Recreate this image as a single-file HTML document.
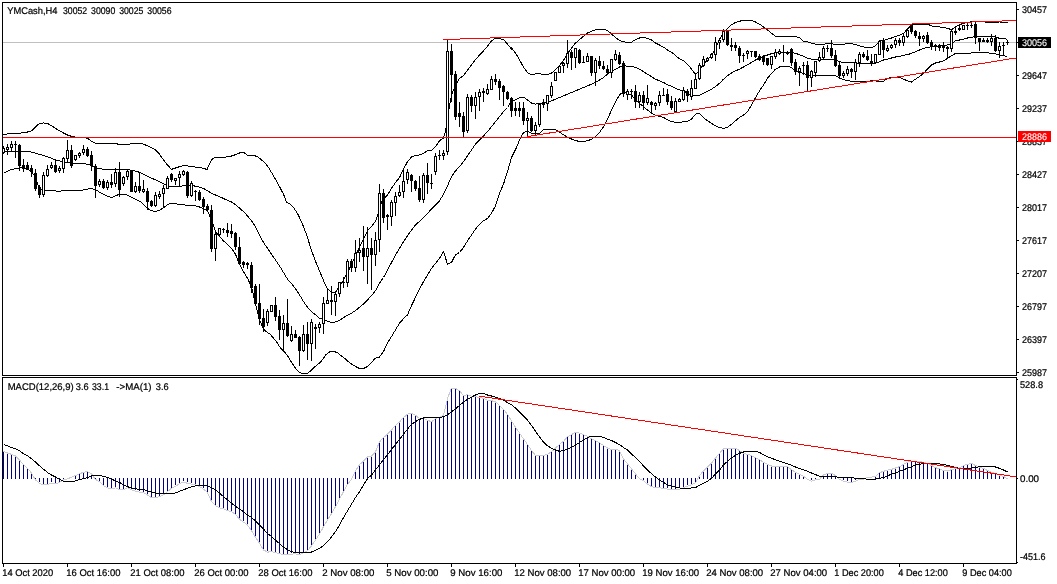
<!DOCTYPE html>
<html lang="en"><head><meta charset="utf-8"><title>YMCash H4</title>
<style>html,body{margin:0;padding:0;background:#fff}body{width:1057px;height:584px;overflow:hidden}svg{display:block}</style>
</head><body>
<svg width="1057" height="584" viewBox="0 0 1057 584">
<rect x="0" y="0" width="1057" height="584" fill="#fff"/>
<g shape-rendering="crispEdges">
<rect x="3" y="42" width="1015" height="1" fill="#c0c0c0"/>
</g>
<g fill="none" stroke="#000" stroke-width="1" shape-rendering="crispEdges">
<polyline points="3.5,134.5 7.5,134.0 11.5,133.67 15.5,133.33 19.5,133.17 23.5,132.83 27.5,132.0 31.5,130.83 35.5,127.0 39.5,123.33 43.5,123.0 47.5,123.33 51.5,125.83 55.5,128.33 59.5,130.83 63.5,133.0 67.5,135.0 71.5,136.33 75.5,137.17 83.5,137.5 87.5,138.33 91.5,141.33 95.5,143.33 99.5,143.5 103.5,143.67 115.5,143.67 119.5,144.33 123.5,144.5 127.5,144.33 131.5,143.83 135.5,143.5 139.5,143.33 143.5,144.17 147.5,145.83 151.5,147.5 155.5,150.0 159.5,154.17 163.5,160.0 167.5,165.0 171.5,169.33 175.5,168.0 179.5,166.67 183.5,165.5 187.5,165.83 191.5,166.67 199.5,167.5 203.5,168.33 207.0,169.5 211.5,159.67 214.17,158.0 219.5,157.83 223.5,157.5 227.5,156.67 231.5,156.0 235.5,154.67 239.5,153.0 243.0,152.17 245.0,153.33 247.5,155.33 251.5,155.33 255.5,156.0 258.33,157.17 263.5,161.67 267.5,165.83 271.5,172.5 275.5,179.17 279.5,186.67 283.5,194.17 286.67,202.5 290.0,204.17 294.17,208.33 298.33,215.0 302.5,224.17 306.67,235.0 310.83,248.33 315.0,260.0 319.17,270.0 323.33,280.0 325.0,284.0 327.5,289.0 331.5,292.0 335.5,292.33 339.5,286.0 343.5,280.0 347.5,272.5 351.5,264.5 355.5,256.0 359.5,247.0 363.5,238.67 367.5,230.83 371.5,226.33 375.5,221.33 378.0,214.17 381.67,201.67 384.17,198.33 387.5,195.0 391.5,188.33 395.5,182.5 399.5,177.5 403.5,169.17 407.5,161.67 411.5,157.0 415.5,155.33 419.5,155.0 423.5,153.33 427.5,150.83 431.5,150.33 435.5,146.67 439.5,140.83 443.5,138.0 445.83,130.0 447.5,116.67 451.5,95.0 455.5,85.0 459.5,78.33 463.5,75.83 467.5,70.0 471.5,65.0 475.5,59.67 479.5,55.0 483.5,50.83 487.5,46.33 491.5,40.83 495.5,38.0 499.5,38.67 503.5,39.5 507.5,44.17 511.5,49.17 511.5,48.0 515.5,53.0 519.5,59.67 523.5,67.17 527.5,72.67 531.5,74.67 535.5,73.83 539.5,73.83 543.5,74.33 547.5,74.67 551.5,73.0 555.5,69.67 559.5,65.5 563.5,60.5 567.5,53.83 571.5,48.0 575.5,43.0 579.5,39.67 583.5,36.33 587.5,33.0 591.5,31.33 595.5,29.67 599.5,29.17 603.5,29.17 607.5,30.5 611.5,33.83 615.5,37.67 619.5,40.5 623.5,41.67 627.5,42.5 631.5,42.17 635.5,39.67 639.5,38.0 643.5,37.17 647.5,38.33 651.5,40.0 655.5,43.0 659.5,45.0 663.5,47.17 667.5,50.0 671.5,52.17 675.5,55.5 679.5,58.83 683.5,60.83 683.5,60.83 687.5,64.17 691.5,69.17 695.5,74.67 699.5,70.0 703.5,64.67 707.5,59.67 711.5,55.5 715.5,48.33 719.5,40.0 723.5,32.5 727.5,28.33 731.5,24.67 735.5,22.5 739.5,21.17 743.5,20.5 747.5,20.33 751.5,20.5 755.5,22.0 759.5,24.17 763.5,27.0 767.5,30.0 771.5,33.33 775.5,36.33 779.5,36.67 783.5,36.67 787.5,36.33 791.5,36.33 795.5,36.67 799.5,37.5 803.5,41.33 807.5,41.67 811.5,43.33 815.5,44.17 819.5,44.5 823.5,44.17 827.5,43.67 831.5,43.67 835.5,44.5 839.5,44.17 843.5,44.17 847.5,43.83 851.5,43.67 855.5,44.67 859.5,45.83 863.5,47.0 867.5,47.5 871.5,47.5 875.5,45.83 879.5,40.83 883.5,40.33 887.5,39.17 891.5,38.0 895.5,36.33 899.5,35.33 903.5,33.33 907.5,29.17 911.5,24.67 915.5,24.17 919.5,24.17 923.5,24.17 927.5,24.17 931.5,25.83 935.5,26.67 939.5,27.0 943.5,27.5 947.5,28.33 951.5,29.67 955.5,26.67 959.5,24.67 963.5,23.33 967.5,22.5 971.5,21.67 975.5,21.17 979.5,21.67 987.5,22.17 991.5,22.17 995.5,22.17 999.5,22.0 1003.5,22.0 1007.5,22.0"/>
<polyline points="3.5,152.0 11.5,151.5 21.67,151.17 27.5,151.33 33.33,152.5 41.67,155.0 48.33,157.0 55.5,160.0 61.67,161.33 66.67,162.5 73.33,163.67 83.33,163.67 90.0,164.67 95.83,168.0 103.33,169.17 110.0,170.0 116.67,169.67 126.67,169.67 133.33,170.33 140.0,172.5 146.67,175.83 155.0,179.67 163.33,183.67 167.5,185.83 171.5,186.67 179.5,186.33 187.5,185.33 191.5,185.0 195.5,186.33 199.5,187.17 203.5,188.33 207.5,190.83 211.5,193.33 219.5,196.67 227.5,200.33 231.5,202.0 235.5,204.67 239.5,208.0 243.5,211.67 247.5,215.83 251.5,220.83 255.5,226.67 259.5,235.0 263.5,242.5 267.5,248.33 271.5,254.17 275.5,260.0 279.5,265.83 283.5,272.5 287.5,279.17 293.33,285.67 299.5,294.83 303.5,301.5 307.5,307.33 311.5,311.5 315.5,314.83 319.5,318.17 323.5,319.0 327.5,321.5 331.5,322.33 335.5,322.0 339.5,320.33 343.5,317.67 347.5,315.33 351.5,313.17 355.5,310.67 359.5,307.33 363.5,304.0 367.5,299.83 371.5,295.67 375.5,290.67 379.5,283.17 383.5,277.5 387.5,270.0 391.5,262.5 395.5,255.0 399.5,248.33 403.5,241.67 407.5,235.83 411.5,230.0 415.5,225.0 419.5,221.33 423.5,217.5 427.5,213.33 431.5,209.17 435.5,205.0 439.5,200.83 443.5,194.17 447.5,185.83 451.5,176.67 455.5,170.83 459.5,166.67 463.5,161.67 467.5,155.83 471.5,150.0 475.5,144.17 479.5,140.0 483.5,135.83 487.5,131.67 491.5,126.67 495.5,121.67 499.5,116.67 503.5,111.67 507.5,107.5 511.5,101.33 515.5,99.67 519.5,97.83 523.5,97.17 527.5,100.0 531.5,103.0 535.5,104.17 539.5,103.33 543.5,103.0 547.5,102.5 551.5,100.83 555.5,99.17 559.5,97.5 563.5,95.83 567.5,94.17 571.5,92.5 575.5,90.83 579.5,89.17 583.5,87.5 587.5,85.83 591.5,84.17 595.5,82.5 599.5,80.0 603.5,77.5 607.5,74.17 611.5,71.67 615.5,69.17 619.5,67.0 623.5,65.83 627.5,66.17 631.5,66.33 635.5,67.5 639.5,69.17 643.5,71.67 647.5,74.17 651.5,76.67 655.5,79.17 659.5,80.83 663.5,82.5 667.5,84.67 671.5,86.33 675.5,88.33 679.5,90.0 683.5,90.33 687.5,93.67 691.5,95.33 695.5,95.83 699.5,95.33 703.5,93.33 707.5,91.33 711.5,89.17 715.5,86.67 719.5,83.33 723.5,79.17 727.5,75.83 731.5,73.0 735.5,70.83 739.5,69.17 743.5,67.0 747.5,64.67 751.5,62.5 755.5,60.0 759.5,58.0 763.5,56.33 767.5,55.0 771.5,53.67 775.5,53.0 779.5,52.5 783.5,52.0 787.5,52.0 791.5,52.5 795.5,53.33 799.5,54.67 803.5,56.33 807.5,58.33 811.5,59.17 815.5,59.5 819.5,59.17 823.5,59.17 827.5,59.17 831.5,59.17 835.5,59.67 839.5,61.67 843.5,62.5 847.5,62.83 851.5,62.5 855.5,63.0 859.5,63.33 863.5,63.67 867.5,63.67 871.5,63.67 875.5,63.33 879.5,61.67 883.5,60.0 887.5,59.17 891.5,58.0 895.5,57.0 899.5,56.33 903.5,55.33 907.5,54.67 911.5,53.33 915.5,51.67 919.5,50.0 923.5,48.33 927.5,47.5 931.5,46.67 935.5,46.33 939.5,45.83 943.5,45.33 947.5,45.0 951.5,44.17 955.5,40.83 959.5,40.0 963.5,39.17 967.5,38.0 971.5,37.17 975.5,36.67 979.5,36.33 983.5,36.67 987.5,36.67 991.5,36.67 995.5,37.0 999.5,38.33 1003.5,38.83 1007.5,39.17"/>
<polyline points="3.5,173.33 10.0,170.0 16.67,168.33 21.67,167.5 27.5,168.67 31.5,171.67 35.5,177.5 39.5,189.17 43.5,190.0 50.0,190.0 58.33,191.33 66.67,190.33 75.0,190.0 83.33,190.0 90.0,188.67 95.0,189.17 100.0,192.5 106.67,195.83 111.67,197.5 116.67,195.33 119.5,194.17 126.67,195.0 133.33,198.33 141.67,202.5 147.5,208.33 151.67,210.83 155.83,211.33 160.0,210.0 165.0,206.67 169.17,203.67 171.5,203.67 179.5,204.17 187.5,205.33 195.5,205.83 199.5,207.0 203.5,208.67 207.5,210.83 211.5,220.0 215.5,231.67 219.5,236.67 223.5,240.83 227.5,244.67 231.5,248.33 235.5,254.17 239.5,264.17 243.5,271.67 247.5,278.33 251.5,286.67 255.5,304.0 259.5,319.83 263.5,329.0 265.83,331.5 270.0,334.0 274.17,339.0 277.5,343.17 280.0,347.33 284.17,351.5 287.5,355.67 291.5,362.33 295.5,368.17 298.33,371.5 302.5,373.67 306.67,373.67 310.0,371.5 314.17,367.33 318.33,364.0 321.67,360.67 325.83,354.83 330.0,351.5 334.17,351.5 338.33,353.17 340.0,354.83 343.5,357.33 347.5,361.0 351.5,364.0 355.5,366.5 359.5,368.5 363.5,368.5 367.5,366.5 371.5,362.33 375.5,358.17 379.5,357.0 383.5,351.5 387.5,343.17 391.5,336.5 395.5,329.83 399.5,323.17 403.5,318.67 407.5,314.83 411.5,305.67 415.5,297.33 419.5,289.17 423.5,281.67 427.5,275.0 431.5,268.33 435.5,263.33 439.5,258.33 443.5,251.67 447.5,264.17 451.5,262.5 455.5,254.67 459.5,252.5 463.5,247.5 467.5,240.83 471.5,235.0 475.5,229.17 479.5,224.17 483.5,220.83 487.5,218.33 491.5,213.33 495.5,205.83 499.5,193.33 503.5,184.17 507.5,171.67 511.5,157.5 516.67,147.17 519.5,140.0 523.5,132.5 527.5,131.17 531.5,133.33 535.5,133.83 539.5,133.67 543.5,129.17 547.5,129.17 551.5,129.17 555.5,129.83 559.5,132.17 563.5,134.83 567.5,137.33 571.5,139.0 575.5,140.67 579.5,141.33 583.5,141.33 587.5,140.83 591.5,139.17 595.5,136.67 599.5,132.5 603.5,126.67 607.5,119.17 611.5,110.0 615.5,101.67 619.5,95.0 623.5,91.67 627.5,93.67 631.5,95.0 635.5,100.0 639.5,103.33 643.5,106.67 647.5,110.0 651.5,113.0 655.5,115.33 659.5,116.33 663.5,117.5 667.5,119.67 671.5,121.67 675.5,122.17 679.5,122.5 683.5,121.67 687.5,121.33 691.5,119.17 695.5,114.17 699.5,113.33 703.5,117.5 707.5,120.83 711.5,123.33 715.5,125.83 719.5,127.5 723.5,128.33 727.5,127.5 731.5,124.17 735.5,120.83 739.5,117.5 743.5,115.0 747.5,111.67 751.5,105.0 755.5,97.5 759.5,90.83 763.5,85.0 767.5,78.33 771.5,73.33 775.5,69.17 779.5,67.0 783.5,66.33 787.5,66.33 791.5,67.5 795.5,70.83 799.5,72.5 803.5,73.33 807.5,75.0 811.5,75.33 815.5,75.33 819.5,75.33 823.5,75.33 827.5,75.33 831.5,75.33 835.5,75.83 839.5,78.0 843.5,79.67 847.5,80.5 851.5,81.33 855.5,81.67 859.5,81.67 863.5,81.33 867.5,81.33 871.5,80.83 875.5,80.83 879.5,81.67 883.5,81.33 887.5,78.33 891.5,77.5 895.5,77.5 899.5,77.5 903.5,79.17 907.5,80.83 911.5,82.0 915.5,79.17 919.5,76.67 923.5,73.33 927.5,69.17 931.5,65.0 935.5,63.0 939.5,62.0 943.5,60.83 947.5,58.33 951.5,55.83 955.5,53.33 959.5,53.67 963.5,53.67 967.5,53.33 971.5,53.0 975.5,52.5 979.5,52.17 983.5,52.17 987.5,52.83 991.5,53.33 995.5,53.83 999.5,55.0 1003.5,55.83 1007.5,56.33"/>
</g>
<g shape-rendering="crispEdges">
<rect x="3" y="146" width="1" height="8" fill="#000"/>
<rect x="2" y="148" width="3" height="5" fill="#000"/>
<rect x="3" y="149" width="1" height="3" fill="#fff"/>
<rect x="7" y="144" width="1" height="11" fill="#000"/>
<rect x="6" y="147" width="3" height="3" fill="#000"/>
<rect x="7" y="148" width="1" height="1" fill="#fff"/>
<rect x="11" y="141" width="1" height="11" fill="#000"/>
<rect x="10" y="144" width="3" height="4" fill="#000"/>
<rect x="11" y="145" width="1" height="2" fill="#fff"/>
<rect x="15" y="141" width="1" height="17" fill="#000"/>
<rect x="14" y="144" width="3" height="1" fill="#000"/>
<rect x="19" y="144" width="1" height="27" fill="#000"/>
<rect x="18" y="145" width="3" height="21" fill="#000"/>
<rect x="23" y="159" width="1" height="13" fill="#000"/>
<rect x="22" y="165" width="3" height="4" fill="#000"/>
<rect x="27" y="162" width="1" height="8" fill="#000"/>
<rect x="26" y="165" width="3" height="5" fill="#000"/>
<rect x="31" y="165" width="1" height="12" fill="#000"/>
<rect x="30" y="168" width="3" height="4" fill="#000"/>
<rect x="35" y="169" width="1" height="22" fill="#000"/>
<rect x="34" y="173" width="3" height="16" fill="#000"/>
<rect x="39" y="185" width="1" height="13" fill="#000"/>
<rect x="38" y="187" width="3" height="8" fill="#000"/>
<rect x="43" y="172" width="1" height="25" fill="#000"/>
<rect x="42" y="175" width="3" height="20" fill="#000"/>
<rect x="43" y="176" width="1" height="18" fill="#fff"/>
<rect x="47" y="165" width="1" height="12" fill="#000"/>
<rect x="46" y="169" width="3" height="7" fill="#000"/>
<rect x="47" y="170" width="1" height="5" fill="#fff"/>
<rect x="51" y="162" width="1" height="7" fill="#000"/>
<rect x="50" y="165" width="3" height="3" fill="#000"/>
<rect x="51" y="166" width="1" height="1" fill="#fff"/>
<rect x="55" y="160" width="1" height="13" fill="#000"/>
<rect x="54" y="165" width="3" height="7" fill="#000"/>
<rect x="59" y="166" width="1" height="7" fill="#000"/>
<rect x="58" y="168" width="3" height="3" fill="#000"/>
<rect x="59" y="169" width="1" height="1" fill="#fff"/>
<rect x="63" y="157" width="1" height="16" fill="#000"/>
<rect x="62" y="158" width="3" height="11" fill="#000"/>
<rect x="63" y="159" width="1" height="9" fill="#fff"/>
<rect x="67" y="140" width="1" height="22" fill="#000"/>
<rect x="66" y="150" width="3" height="9" fill="#000"/>
<rect x="67" y="151" width="1" height="7" fill="#fff"/>
<rect x="71" y="145" width="1" height="23" fill="#000"/>
<rect x="70" y="150" width="3" height="16" fill="#000"/>
<rect x="75" y="155" width="1" height="6" fill="#000"/>
<rect x="74" y="155" width="3" height="5" fill="#000"/>
<rect x="75" y="156" width="1" height="3" fill="#fff"/>
<rect x="79" y="152" width="1" height="6" fill="#000"/>
<rect x="78" y="153" width="3" height="3" fill="#000"/>
<rect x="79" y="154" width="1" height="1" fill="#fff"/>
<rect x="83" y="145" width="1" height="10" fill="#000"/>
<rect x="82" y="149" width="3" height="4" fill="#000"/>
<rect x="83" y="150" width="1" height="2" fill="#fff"/>
<rect x="87" y="147" width="1" height="10" fill="#000"/>
<rect x="86" y="149" width="3" height="7" fill="#000"/>
<rect x="91" y="151" width="1" height="20" fill="#000"/>
<rect x="90" y="155" width="3" height="11" fill="#000"/>
<rect x="95" y="164" width="1" height="34" fill="#000"/>
<rect x="94" y="166" width="3" height="20" fill="#000"/>
<rect x="99" y="179" width="1" height="8" fill="#000"/>
<rect x="98" y="181" width="3" height="4" fill="#000"/>
<rect x="99" y="182" width="1" height="2" fill="#fff"/>
<rect x="103" y="179" width="1" height="10" fill="#000"/>
<rect x="102" y="181" width="3" height="7" fill="#000"/>
<rect x="107" y="180" width="1" height="10" fill="#000"/>
<rect x="106" y="182" width="3" height="6" fill="#000"/>
<rect x="107" y="183" width="1" height="4" fill="#fff"/>
<rect x="111" y="174" width="1" height="14" fill="#000"/>
<rect x="110" y="182" width="3" height="3" fill="#000"/>
<rect x="115" y="168" width="1" height="19" fill="#000"/>
<rect x="114" y="172" width="3" height="12" fill="#000"/>
<rect x="115" y="173" width="1" height="10" fill="#fff"/>
<rect x="119" y="162" width="1" height="35" fill="#000"/>
<rect x="118" y="172" width="3" height="18" fill="#000"/>
<rect x="123" y="176" width="1" height="10" fill="#000"/>
<rect x="122" y="177" width="3" height="7" fill="#000"/>
<rect x="123" y="178" width="1" height="5" fill="#fff"/>
<rect x="127" y="170" width="1" height="10" fill="#000"/>
<rect x="126" y="171" width="3" height="6" fill="#000"/>
<rect x="127" y="172" width="1" height="4" fill="#fff"/>
<rect x="131" y="170" width="1" height="22" fill="#000"/>
<rect x="130" y="170" width="3" height="22" fill="#000"/>
<rect x="135" y="182" width="1" height="11" fill="#000"/>
<rect x="134" y="186" width="3" height="6" fill="#000"/>
<rect x="135" y="187" width="1" height="4" fill="#fff"/>
<rect x="139" y="172" width="1" height="21" fill="#000"/>
<rect x="138" y="186" width="3" height="5" fill="#000"/>
<rect x="143" y="180" width="1" height="13" fill="#000"/>
<rect x="142" y="189" width="3" height="3" fill="#000"/>
<rect x="143" y="190" width="1" height="1" fill="#fff"/>
<rect x="147" y="188" width="1" height="22" fill="#000"/>
<rect x="146" y="191" width="3" height="11" fill="#000"/>
<rect x="151" y="200" width="1" height="7" fill="#000"/>
<rect x="150" y="201" width="3" height="5" fill="#000"/>
<rect x="155" y="192" width="1" height="15" fill="#000"/>
<rect x="154" y="195" width="3" height="11" fill="#000"/>
<rect x="155" y="196" width="1" height="9" fill="#fff"/>
<rect x="159" y="191" width="1" height="8" fill="#000"/>
<rect x="158" y="194" width="3" height="3" fill="#000"/>
<rect x="159" y="195" width="1" height="1" fill="#fff"/>
<rect x="163" y="185" width="1" height="22" fill="#000"/>
<rect x="162" y="188" width="3" height="6" fill="#000"/>
<rect x="163" y="189" width="1" height="4" fill="#fff"/>
<rect x="167" y="176" width="1" height="13" fill="#000"/>
<rect x="166" y="178" width="3" height="11" fill="#000"/>
<rect x="167" y="179" width="1" height="9" fill="#fff"/>
<rect x="171" y="173" width="1" height="9" fill="#000"/>
<rect x="170" y="174" width="3" height="6" fill="#000"/>
<rect x="175" y="178" width="1" height="7" fill="#000"/>
<rect x="174" y="178" width="3" height="3" fill="#000"/>
<rect x="175" y="179" width="1" height="1" fill="#fff"/>
<rect x="179" y="171" width="1" height="15" fill="#000"/>
<rect x="178" y="174" width="3" height="4" fill="#000"/>
<rect x="179" y="175" width="1" height="2" fill="#fff"/>
<rect x="183" y="170" width="1" height="6" fill="#000"/>
<rect x="182" y="171" width="3" height="4" fill="#000"/>
<rect x="183" y="172" width="1" height="2" fill="#fff"/>
<rect x="187" y="171" width="1" height="27" fill="#000"/>
<rect x="186" y="172" width="3" height="24" fill="#000"/>
<rect x="191" y="181" width="1" height="16" fill="#000"/>
<rect x="190" y="183" width="3" height="13" fill="#000"/>
<rect x="191" y="184" width="1" height="11" fill="#fff"/>
<rect x="195" y="190" width="1" height="11" fill="#000"/>
<rect x="194" y="191" width="3" height="1" fill="#000"/>
<rect x="199" y="190" width="1" height="11" fill="#000"/>
<rect x="198" y="192" width="3" height="8" fill="#000"/>
<rect x="203" y="197" width="1" height="17" fill="#000"/>
<rect x="202" y="199" width="3" height="8" fill="#000"/>
<rect x="207" y="204" width="1" height="8" fill="#000"/>
<rect x="206" y="206" width="3" height="4" fill="#000"/>
<rect x="211" y="205" width="1" height="47" fill="#000"/>
<rect x="210" y="210" width="3" height="39" fill="#000"/>
<rect x="215" y="231" width="1" height="30" fill="#000"/>
<rect x="214" y="234" width="3" height="15" fill="#000"/>
<rect x="215" y="235" width="1" height="13" fill="#fff"/>
<rect x="219" y="228" width="1" height="9" fill="#000"/>
<rect x="218" y="228" width="3" height="7" fill="#000"/>
<rect x="219" y="229" width="1" height="5" fill="#fff"/>
<rect x="223" y="228" width="1" height="5" fill="#000"/>
<rect x="222" y="229" width="3" height="1" fill="#000"/>
<rect x="227" y="223" width="1" height="14" fill="#000"/>
<rect x="226" y="230" width="3" height="3" fill="#000"/>
<rect x="231" y="224" width="1" height="14" fill="#000"/>
<rect x="230" y="231" width="3" height="3" fill="#000"/>
<rect x="235" y="232" width="1" height="18" fill="#000"/>
<rect x="234" y="233" width="3" height="14" fill="#000"/>
<rect x="239" y="237" width="1" height="28" fill="#000"/>
<rect x="238" y="247" width="3" height="17" fill="#000"/>
<rect x="243" y="261" width="1" height="7" fill="#000"/>
<rect x="242" y="262" width="3" height="3" fill="#000"/>
<rect x="247" y="262" width="1" height="7" fill="#000"/>
<rect x="246" y="263" width="3" height="2" fill="#000"/>
<rect x="251" y="262" width="1" height="31" fill="#000"/>
<rect x="250" y="265" width="3" height="23" fill="#000"/>
<rect x="255" y="284" width="1" height="22" fill="#000"/>
<rect x="254" y="286" width="3" height="18" fill="#000"/>
<rect x="259" y="284" width="1" height="41" fill="#000"/>
<rect x="258" y="303" width="3" height="16" fill="#000"/>
<rect x="263" y="309" width="1" height="23" fill="#000"/>
<rect x="262" y="318" width="3" height="9" fill="#000"/>
<rect x="267" y="309" width="1" height="17" fill="#000"/>
<rect x="266" y="311" width="3" height="12" fill="#000"/>
<rect x="267" y="312" width="1" height="10" fill="#fff"/>
<rect x="271" y="305" width="1" height="7" fill="#000"/>
<rect x="270" y="305" width="3" height="7" fill="#000"/>
<rect x="271" y="306" width="1" height="5" fill="#fff"/>
<rect x="275" y="297" width="1" height="24" fill="#000"/>
<rect x="274" y="305" width="3" height="12" fill="#000"/>
<rect x="279" y="310" width="1" height="30" fill="#000"/>
<rect x="278" y="316" width="3" height="14" fill="#000"/>
<rect x="283" y="315" width="1" height="35" fill="#000"/>
<rect x="282" y="323" width="3" height="7" fill="#000"/>
<rect x="283" y="324" width="1" height="5" fill="#fff"/>
<rect x="287" y="299" width="1" height="38" fill="#000"/>
<rect x="286" y="323" width="3" height="13" fill="#000"/>
<rect x="291" y="326" width="1" height="16" fill="#000"/>
<rect x="290" y="334" width="3" height="7" fill="#000"/>
<rect x="291" y="335" width="1" height="5" fill="#fff"/>
<rect x="295" y="330" width="1" height="8" fill="#000"/>
<rect x="294" y="334" width="3" height="4" fill="#000"/>
<rect x="299" y="336" width="1" height="30" fill="#000"/>
<rect x="298" y="337" width="3" height="14" fill="#000"/>
<rect x="303" y="325" width="1" height="27" fill="#000"/>
<rect x="302" y="334" width="3" height="17" fill="#000"/>
<rect x="303" y="335" width="1" height="15" fill="#fff"/>
<rect x="307" y="322" width="1" height="38" fill="#000"/>
<rect x="306" y="334" width="3" height="10" fill="#000"/>
<rect x="311" y="319" width="1" height="42" fill="#000"/>
<rect x="310" y="322" width="3" height="22" fill="#000"/>
<rect x="311" y="323" width="1" height="20" fill="#fff"/>
<rect x="315" y="324" width="1" height="25" fill="#000"/>
<rect x="314" y="327" width="3" height="2" fill="#000"/>
<rect x="319" y="322" width="1" height="11" fill="#000"/>
<rect x="318" y="324" width="3" height="4" fill="#000"/>
<rect x="319" y="325" width="1" height="2" fill="#fff"/>
<rect x="323" y="297" width="1" height="37" fill="#000"/>
<rect x="322" y="303" width="3" height="21" fill="#000"/>
<rect x="323" y="304" width="1" height="19" fill="#fff"/>
<rect x="327" y="289" width="1" height="15" fill="#000"/>
<rect x="326" y="300" width="3" height="4" fill="#000"/>
<rect x="327" y="301" width="1" height="2" fill="#fff"/>
<rect x="331" y="286" width="1" height="29" fill="#000"/>
<rect x="330" y="300" width="3" height="2" fill="#000"/>
<rect x="335" y="292" width="1" height="24" fill="#000"/>
<rect x="334" y="294" width="3" height="8" fill="#000"/>
<rect x="335" y="295" width="1" height="6" fill="#fff"/>
<rect x="339" y="282" width="1" height="15" fill="#000"/>
<rect x="338" y="282" width="3" height="12" fill="#000"/>
<rect x="339" y="283" width="1" height="10" fill="#fff"/>
<rect x="343" y="277" width="1" height="11" fill="#000"/>
<rect x="342" y="282" width="3" height="1" fill="#000"/>
<rect x="347" y="259" width="1" height="28" fill="#000"/>
<rect x="346" y="261" width="3" height="22" fill="#000"/>
<rect x="347" y="262" width="1" height="20" fill="#fff"/>
<rect x="351" y="259" width="1" height="13" fill="#000"/>
<rect x="350" y="261" width="3" height="7" fill="#000"/>
<rect x="355" y="240" width="1" height="32" fill="#000"/>
<rect x="354" y="253" width="3" height="15" fill="#000"/>
<rect x="355" y="254" width="1" height="13" fill="#fff"/>
<rect x="359" y="238" width="1" height="24" fill="#000"/>
<rect x="358" y="250" width="3" height="3" fill="#000"/>
<rect x="359" y="251" width="1" height="1" fill="#fff"/>
<rect x="363" y="226" width="1" height="45" fill="#000"/>
<rect x="362" y="248" width="3" height="9" fill="#000"/>
<rect x="367" y="227" width="1" height="57" fill="#000"/>
<rect x="366" y="248" width="3" height="9" fill="#000"/>
<rect x="367" y="249" width="1" height="7" fill="#fff"/>
<rect x="371" y="238" width="1" height="52" fill="#000"/>
<rect x="370" y="248" width="3" height="7" fill="#000"/>
<rect x="375" y="232" width="1" height="34" fill="#000"/>
<rect x="374" y="240" width="3" height="15" fill="#000"/>
<rect x="375" y="241" width="1" height="13" fill="#fff"/>
<rect x="379" y="184" width="1" height="68" fill="#000"/>
<rect x="378" y="193" width="3" height="47" fill="#000"/>
<rect x="379" y="194" width="1" height="45" fill="#fff"/>
<rect x="383" y="189" width="1" height="34" fill="#000"/>
<rect x="382" y="193" width="3" height="25" fill="#000"/>
<rect x="387" y="214" width="1" height="16" fill="#000"/>
<rect x="386" y="215" width="3" height="2" fill="#000"/>
<rect x="391" y="200" width="1" height="26" fill="#000"/>
<rect x="390" y="202" width="3" height="15" fill="#000"/>
<rect x="391" y="203" width="1" height="13" fill="#fff"/>
<rect x="395" y="192" width="1" height="24" fill="#000"/>
<rect x="394" y="196" width="3" height="7" fill="#000"/>
<rect x="395" y="197" width="1" height="5" fill="#fff"/>
<rect x="399" y="185" width="1" height="12" fill="#000"/>
<rect x="398" y="192" width="3" height="4" fill="#000"/>
<rect x="399" y="193" width="1" height="2" fill="#fff"/>
<rect x="403" y="169" width="1" height="29" fill="#000"/>
<rect x="402" y="181" width="3" height="11" fill="#000"/>
<rect x="403" y="182" width="1" height="9" fill="#fff"/>
<rect x="407" y="169" width="1" height="15" fill="#000"/>
<rect x="406" y="172" width="3" height="8" fill="#000"/>
<rect x="407" y="173" width="1" height="6" fill="#fff"/>
<rect x="411" y="174" width="1" height="18" fill="#000"/>
<rect x="410" y="175" width="3" height="6" fill="#000"/>
<rect x="415" y="180" width="1" height="11" fill="#000"/>
<rect x="414" y="181" width="3" height="8" fill="#000"/>
<rect x="419" y="176" width="1" height="26" fill="#000"/>
<rect x="418" y="188" width="3" height="12" fill="#000"/>
<rect x="423" y="173" width="1" height="30" fill="#000"/>
<rect x="422" y="175" width="3" height="25" fill="#000"/>
<rect x="423" y="176" width="1" height="23" fill="#fff"/>
<rect x="427" y="163" width="1" height="31" fill="#000"/>
<rect x="426" y="175" width="3" height="8" fill="#000"/>
<rect x="431" y="174" width="1" height="15" fill="#000"/>
<rect x="430" y="183" width="3" height="1" fill="#000"/>
<rect x="435" y="153" width="1" height="22" fill="#000"/>
<rect x="434" y="156" width="3" height="16" fill="#000"/>
<rect x="435" y="157" width="1" height="14" fill="#fff"/>
<rect x="439" y="150" width="1" height="10" fill="#000"/>
<rect x="438" y="155" width="3" height="1" fill="#000"/>
<rect x="443" y="150" width="1" height="10" fill="#000"/>
<rect x="442" y="153" width="3" height="3" fill="#000"/>
<rect x="443" y="154" width="1" height="1" fill="#fff"/>
<rect x="447" y="39" width="1" height="116" fill="#000"/>
<rect x="446" y="51" width="3" height="101" fill="#000"/>
<rect x="447" y="52" width="1" height="99" fill="#fff"/>
<rect x="451" y="44" width="1" height="58" fill="#000"/>
<rect x="450" y="51" width="3" height="24" fill="#000"/>
<rect x="455" y="71" width="1" height="49" fill="#000"/>
<rect x="454" y="74" width="3" height="43" fill="#000"/>
<rect x="459" y="102" width="1" height="25" fill="#000"/>
<rect x="458" y="113" width="3" height="4" fill="#000"/>
<rect x="463" y="112" width="1" height="26" fill="#000"/>
<rect x="462" y="116" width="3" height="16" fill="#000"/>
<rect x="467" y="94" width="1" height="39" fill="#000"/>
<rect x="466" y="97" width="3" height="34" fill="#000"/>
<rect x="467" y="98" width="1" height="32" fill="#fff"/>
<rect x="471" y="95" width="1" height="17" fill="#000"/>
<rect x="470" y="97" width="3" height="9" fill="#000"/>
<rect x="475" y="92" width="1" height="27" fill="#000"/>
<rect x="474" y="97" width="3" height="9" fill="#000"/>
<rect x="475" y="98" width="1" height="7" fill="#fff"/>
<rect x="479" y="89" width="1" height="22" fill="#000"/>
<rect x="478" y="92" width="3" height="5" fill="#000"/>
<rect x="479" y="93" width="1" height="3" fill="#fff"/>
<rect x="483" y="88" width="1" height="14" fill="#000"/>
<rect x="482" y="91" width="3" height="2" fill="#000"/>
<rect x="487" y="84" width="1" height="11" fill="#000"/>
<rect x="486" y="89" width="3" height="5" fill="#000"/>
<rect x="487" y="90" width="1" height="3" fill="#fff"/>
<rect x="491" y="76" width="1" height="14" fill="#000"/>
<rect x="490" y="79" width="3" height="11" fill="#000"/>
<rect x="491" y="80" width="1" height="9" fill="#fff"/>
<rect x="495" y="74" width="1" height="11" fill="#000"/>
<rect x="494" y="79" width="3" height="3" fill="#000"/>
<rect x="499" y="79" width="1" height="21" fill="#000"/>
<rect x="498" y="81" width="3" height="7" fill="#000"/>
<rect x="503" y="85" width="1" height="21" fill="#000"/>
<rect x="502" y="86" width="3" height="6" fill="#000"/>
<rect x="507" y="91" width="1" height="9" fill="#000"/>
<rect x="506" y="92" width="3" height="7" fill="#000"/>
<rect x="511" y="97" width="1" height="20" fill="#000"/>
<rect x="510" y="98" width="3" height="13" fill="#000"/>
<rect x="515" y="102" width="1" height="14" fill="#000"/>
<rect x="514" y="108" width="3" height="3" fill="#000"/>
<rect x="519" y="102" width="1" height="15" fill="#000"/>
<rect x="518" y="108" width="3" height="3" fill="#000"/>
<rect x="523" y="102" width="1" height="23" fill="#000"/>
<rect x="522" y="108" width="3" height="13" fill="#000"/>
<rect x="527" y="112" width="1" height="26" fill="#000"/>
<rect x="526" y="118" width="3" height="3" fill="#000"/>
<rect x="527" y="119" width="1" height="1" fill="#fff"/>
<rect x="531" y="116" width="1" height="16" fill="#000"/>
<rect x="530" y="118" width="3" height="13" fill="#000"/>
<rect x="535" y="122" width="1" height="13" fill="#000"/>
<rect x="534" y="125" width="3" height="6" fill="#000"/>
<rect x="535" y="126" width="1" height="4" fill="#fff"/>
<rect x="539" y="103" width="1" height="24" fill="#000"/>
<rect x="538" y="104" width="3" height="21" fill="#000"/>
<rect x="539" y="105" width="1" height="19" fill="#fff"/>
<rect x="543" y="99" width="1" height="9" fill="#000"/>
<rect x="542" y="102" width="3" height="3" fill="#000"/>
<rect x="547" y="95" width="1" height="16" fill="#000"/>
<rect x="546" y="95" width="3" height="9" fill="#000"/>
<rect x="547" y="96" width="1" height="7" fill="#fff"/>
<rect x="551" y="82" width="1" height="16" fill="#000"/>
<rect x="550" y="86" width="3" height="10" fill="#000"/>
<rect x="551" y="87" width="1" height="8" fill="#fff"/>
<rect x="555" y="72" width="1" height="9" fill="#000"/>
<rect x="554" y="72" width="3" height="9" fill="#000"/>
<rect x="555" y="73" width="1" height="7" fill="#fff"/>
<rect x="559" y="65" width="1" height="8" fill="#000"/>
<rect x="558" y="66" width="3" height="7" fill="#000"/>
<rect x="559" y="67" width="1" height="5" fill="#fff"/>
<rect x="563" y="62" width="1" height="11" fill="#000"/>
<rect x="562" y="63" width="3" height="3" fill="#000"/>
<rect x="563" y="64" width="1" height="1" fill="#fff"/>
<rect x="567" y="40" width="1" height="28" fill="#000"/>
<rect x="566" y="53" width="3" height="11" fill="#000"/>
<rect x="567" y="54" width="1" height="9" fill="#fff"/>
<rect x="571" y="50" width="1" height="20" fill="#000"/>
<rect x="570" y="52" width="3" height="6" fill="#000"/>
<rect x="575" y="48" width="1" height="20" fill="#000"/>
<rect x="574" y="48" width="3" height="10" fill="#000"/>
<rect x="575" y="49" width="1" height="8" fill="#fff"/>
<rect x="579" y="49" width="1" height="15" fill="#000"/>
<rect x="578" y="50" width="3" height="13" fill="#000"/>
<rect x="583" y="56" width="1" height="7" fill="#000"/>
<rect x="582" y="62" width="3" height="1" fill="#000"/>
<rect x="587" y="53" width="1" height="9" fill="#000"/>
<rect x="586" y="56" width="3" height="6" fill="#000"/>
<rect x="587" y="57" width="1" height="4" fill="#fff"/>
<rect x="591" y="56" width="1" height="20" fill="#000"/>
<rect x="590" y="56" width="3" height="17" fill="#000"/>
<rect x="595" y="58" width="1" height="28" fill="#000"/>
<rect x="594" y="60" width="3" height="13" fill="#000"/>
<rect x="595" y="61" width="1" height="11" fill="#fff"/>
<rect x="599" y="56" width="1" height="13" fill="#000"/>
<rect x="598" y="61" width="3" height="5" fill="#000"/>
<rect x="603" y="61" width="1" height="9" fill="#000"/>
<rect x="602" y="66" width="3" height="3" fill="#000"/>
<rect x="607" y="65" width="1" height="10" fill="#000"/>
<rect x="606" y="69" width="3" height="4" fill="#000"/>
<rect x="611" y="59" width="1" height="19" fill="#000"/>
<rect x="610" y="59" width="3" height="14" fill="#000"/>
<rect x="611" y="60" width="1" height="12" fill="#fff"/>
<rect x="615" y="50" width="1" height="11" fill="#000"/>
<rect x="614" y="54" width="3" height="6" fill="#000"/>
<rect x="615" y="55" width="1" height="4" fill="#fff"/>
<rect x="619" y="52" width="1" height="13" fill="#000"/>
<rect x="618" y="55" width="3" height="9" fill="#000"/>
<rect x="623" y="61" width="1" height="36" fill="#000"/>
<rect x="622" y="63" width="3" height="31" fill="#000"/>
<rect x="627" y="89" width="1" height="11" fill="#000"/>
<rect x="626" y="91" width="3" height="4" fill="#000"/>
<rect x="627" y="92" width="1" height="2" fill="#fff"/>
<rect x="631" y="89" width="1" height="10" fill="#000"/>
<rect x="630" y="91" width="3" height="1" fill="#000"/>
<rect x="635" y="85" width="1" height="23" fill="#000"/>
<rect x="634" y="91" width="3" height="11" fill="#000"/>
<rect x="639" y="92" width="1" height="16" fill="#000"/>
<rect x="638" y="95" width="3" height="7" fill="#000"/>
<rect x="639" y="96" width="1" height="5" fill="#fff"/>
<rect x="643" y="91" width="1" height="19" fill="#000"/>
<rect x="642" y="95" width="3" height="8" fill="#000"/>
<rect x="647" y="85" width="1" height="20" fill="#000"/>
<rect x="646" y="98" width="3" height="5" fill="#000"/>
<rect x="647" y="99" width="1" height="3" fill="#fff"/>
<rect x="651" y="101" width="1" height="12" fill="#000"/>
<rect x="650" y="102" width="3" height="3" fill="#000"/>
<rect x="655" y="102" width="1" height="8" fill="#000"/>
<rect x="654" y="103" width="3" height="3" fill="#000"/>
<rect x="655" y="104" width="1" height="1" fill="#fff"/>
<rect x="659" y="91" width="1" height="15" fill="#000"/>
<rect x="658" y="95" width="3" height="8" fill="#000"/>
<rect x="659" y="96" width="1" height="6" fill="#fff"/>
<rect x="663" y="88" width="1" height="8" fill="#000"/>
<rect x="662" y="95" width="3" height="1" fill="#000"/>
<rect x="667" y="89" width="1" height="16" fill="#000"/>
<rect x="666" y="94" width="3" height="8" fill="#000"/>
<rect x="671" y="96" width="1" height="14" fill="#000"/>
<rect x="670" y="101" width="3" height="7" fill="#000"/>
<rect x="675" y="98" width="1" height="15" fill="#000"/>
<rect x="674" y="101" width="3" height="11" fill="#000"/>
<rect x="675" y="102" width="1" height="9" fill="#fff"/>
<rect x="679" y="98" width="1" height="4" fill="#000"/>
<rect x="678" y="99" width="3" height="3" fill="#000"/>
<rect x="679" y="100" width="1" height="1" fill="#fff"/>
<rect x="683" y="87" width="1" height="14" fill="#000"/>
<rect x="682" y="90" width="3" height="10" fill="#000"/>
<rect x="683" y="91" width="1" height="8" fill="#fff"/>
<rect x="687" y="89" width="1" height="13" fill="#000"/>
<rect x="686" y="91" width="3" height="5" fill="#000"/>
<rect x="691" y="80" width="1" height="20" fill="#000"/>
<rect x="690" y="88" width="3" height="9" fill="#000"/>
<rect x="691" y="89" width="1" height="7" fill="#fff"/>
<rect x="695" y="73" width="1" height="16" fill="#000"/>
<rect x="694" y="79" width="3" height="10" fill="#000"/>
<rect x="695" y="80" width="1" height="8" fill="#fff"/>
<rect x="699" y="63" width="1" height="17" fill="#000"/>
<rect x="698" y="65" width="3" height="14" fill="#000"/>
<rect x="699" y="66" width="1" height="12" fill="#fff"/>
<rect x="703" y="56" width="1" height="11" fill="#000"/>
<rect x="702" y="59" width="3" height="7" fill="#000"/>
<rect x="703" y="60" width="1" height="5" fill="#fff"/>
<rect x="707" y="57" width="1" height="5" fill="#000"/>
<rect x="706" y="58" width="3" height="3" fill="#000"/>
<rect x="707" y="59" width="1" height="1" fill="#fff"/>
<rect x="711" y="53" width="1" height="6" fill="#000"/>
<rect x="710" y="54" width="3" height="4" fill="#000"/>
<rect x="711" y="55" width="1" height="2" fill="#fff"/>
<rect x="715" y="37" width="1" height="24" fill="#000"/>
<rect x="714" y="42" width="3" height="13" fill="#000"/>
<rect x="715" y="43" width="1" height="11" fill="#fff"/>
<rect x="719" y="38" width="1" height="11" fill="#000"/>
<rect x="718" y="40" width="3" height="3" fill="#000"/>
<rect x="719" y="41" width="1" height="1" fill="#fff"/>
<rect x="723" y="29" width="1" height="13" fill="#000"/>
<rect x="722" y="31" width="3" height="9" fill="#000"/>
<rect x="723" y="32" width="1" height="7" fill="#fff"/>
<rect x="727" y="30" width="1" height="16" fill="#000"/>
<rect x="726" y="30" width="3" height="15" fill="#000"/>
<rect x="731" y="38" width="1" height="13" fill="#000"/>
<rect x="730" y="45" width="3" height="2" fill="#000"/>
<rect x="735" y="42" width="1" height="9" fill="#000"/>
<rect x="734" y="45" width="3" height="3" fill="#000"/>
<rect x="739" y="46" width="1" height="17" fill="#000"/>
<rect x="738" y="48" width="3" height="8" fill="#000"/>
<rect x="743" y="53" width="1" height="9" fill="#000"/>
<rect x="742" y="55" width="3" height="1" fill="#000"/>
<rect x="747" y="50" width="1" height="9" fill="#000"/>
<rect x="746" y="51" width="3" height="3" fill="#000"/>
<rect x="747" y="52" width="1" height="1" fill="#fff"/>
<rect x="751" y="51" width="1" height="6" fill="#000"/>
<rect x="750" y="51" width="3" height="1" fill="#000"/>
<rect x="755" y="51" width="1" height="7" fill="#000"/>
<rect x="754" y="51" width="3" height="6" fill="#000"/>
<rect x="759" y="54" width="1" height="7" fill="#000"/>
<rect x="758" y="56" width="3" height="4" fill="#000"/>
<rect x="763" y="55" width="1" height="10" fill="#000"/>
<rect x="762" y="57" width="3" height="5" fill="#000"/>
<rect x="767" y="58" width="1" height="8" fill="#000"/>
<rect x="766" y="58" width="3" height="7" fill="#000"/>
<rect x="771" y="56" width="1" height="13" fill="#000"/>
<rect x="770" y="56" width="3" height="9" fill="#000"/>
<rect x="771" y="57" width="1" height="7" fill="#fff"/>
<rect x="775" y="49" width="1" height="10" fill="#000"/>
<rect x="774" y="52" width="3" height="5" fill="#000"/>
<rect x="775" y="53" width="1" height="3" fill="#fff"/>
<rect x="779" y="49" width="1" height="6" fill="#000"/>
<rect x="778" y="51" width="3" height="3" fill="#000"/>
<rect x="779" y="52" width="1" height="1" fill="#fff"/>
<rect x="783" y="45" width="1" height="17" fill="#000"/>
<rect x="782" y="52" width="3" height="1" fill="#000"/>
<rect x="787" y="51" width="1" height="4" fill="#000"/>
<rect x="786" y="52" width="3" height="2" fill="#000"/>
<rect x="791" y="48" width="1" height="18" fill="#000"/>
<rect x="790" y="49" width="3" height="14" fill="#000"/>
<rect x="795" y="59" width="1" height="16" fill="#000"/>
<rect x="794" y="62" width="3" height="10" fill="#000"/>
<rect x="799" y="66" width="1" height="20" fill="#000"/>
<rect x="798" y="68" width="3" height="4" fill="#000"/>
<rect x="799" y="69" width="1" height="2" fill="#fff"/>
<rect x="803" y="62" width="1" height="13" fill="#000"/>
<rect x="802" y="65" width="3" height="1" fill="#000"/>
<rect x="807" y="61" width="1" height="30" fill="#000"/>
<rect x="806" y="65" width="3" height="13" fill="#000"/>
<rect x="811" y="70" width="1" height="17" fill="#000"/>
<rect x="810" y="71" width="3" height="7" fill="#000"/>
<rect x="811" y="72" width="1" height="5" fill="#fff"/>
<rect x="815" y="61" width="1" height="16" fill="#000"/>
<rect x="814" y="61" width="3" height="12" fill="#000"/>
<rect x="815" y="62" width="1" height="10" fill="#fff"/>
<rect x="819" y="52" width="1" height="10" fill="#000"/>
<rect x="818" y="57" width="3" height="4" fill="#000"/>
<rect x="819" y="58" width="1" height="2" fill="#fff"/>
<rect x="823" y="46" width="1" height="13" fill="#000"/>
<rect x="822" y="48" width="3" height="10" fill="#000"/>
<rect x="823" y="49" width="1" height="8" fill="#fff"/>
<rect x="827" y="45" width="1" height="7" fill="#000"/>
<rect x="826" y="48" width="3" height="1" fill="#000"/>
<rect x="831" y="40" width="1" height="18" fill="#000"/>
<rect x="830" y="48" width="3" height="8" fill="#000"/>
<rect x="835" y="50" width="1" height="17" fill="#000"/>
<rect x="834" y="55" width="3" height="11" fill="#000"/>
<rect x="839" y="62" width="1" height="16" fill="#000"/>
<rect x="838" y="65" width="3" height="11" fill="#000"/>
<rect x="843" y="71" width="1" height="7" fill="#000"/>
<rect x="842" y="73" width="3" height="3" fill="#000"/>
<rect x="843" y="74" width="1" height="1" fill="#fff"/>
<rect x="847" y="66" width="1" height="10" fill="#000"/>
<rect x="846" y="69" width="3" height="5" fill="#000"/>
<rect x="847" y="70" width="1" height="3" fill="#fff"/>
<rect x="851" y="68" width="1" height="10" fill="#000"/>
<rect x="850" y="69" width="3" height="3" fill="#000"/>
<rect x="855" y="59" width="1" height="21" fill="#000"/>
<rect x="854" y="62" width="3" height="10" fill="#000"/>
<rect x="855" y="63" width="1" height="8" fill="#fff"/>
<rect x="859" y="52" width="1" height="15" fill="#000"/>
<rect x="858" y="54" width="3" height="9" fill="#000"/>
<rect x="859" y="55" width="1" height="7" fill="#fff"/>
<rect x="863" y="52" width="1" height="6" fill="#000"/>
<rect x="862" y="54" width="3" height="3" fill="#000"/>
<rect x="867" y="50" width="1" height="11" fill="#000"/>
<rect x="866" y="56" width="3" height="4" fill="#000"/>
<rect x="871" y="54" width="1" height="12" fill="#000"/>
<rect x="870" y="61" width="3" height="3" fill="#000"/>
<rect x="875" y="54" width="1" height="9" fill="#000"/>
<rect x="874" y="54" width="3" height="9" fill="#000"/>
<rect x="875" y="55" width="1" height="7" fill="#fff"/>
<rect x="879" y="41" width="1" height="14" fill="#000"/>
<rect x="878" y="41" width="3" height="14" fill="#000"/>
<rect x="879" y="42" width="1" height="12" fill="#fff"/>
<rect x="883" y="38" width="1" height="20" fill="#000"/>
<rect x="882" y="41" width="3" height="9" fill="#000"/>
<rect x="887" y="45" width="1" height="7" fill="#000"/>
<rect x="886" y="48" width="3" height="3" fill="#000"/>
<rect x="887" y="49" width="1" height="1" fill="#fff"/>
<rect x="891" y="44" width="1" height="5" fill="#000"/>
<rect x="890" y="45" width="3" height="3" fill="#000"/>
<rect x="891" y="46" width="1" height="1" fill="#fff"/>
<rect x="895" y="38" width="1" height="10" fill="#000"/>
<rect x="894" y="40" width="3" height="5" fill="#000"/>
<rect x="895" y="41" width="1" height="3" fill="#fff"/>
<rect x="899" y="38" width="1" height="8" fill="#000"/>
<rect x="898" y="40" width="3" height="3" fill="#000"/>
<rect x="903" y="34" width="1" height="12" fill="#000"/>
<rect x="902" y="36" width="3" height="7" fill="#000"/>
<rect x="903" y="37" width="1" height="5" fill="#fff"/>
<rect x="907" y="30" width="1" height="8" fill="#000"/>
<rect x="906" y="30" width="3" height="7" fill="#000"/>
<rect x="907" y="31" width="1" height="5" fill="#fff"/>
<rect x="911" y="24" width="1" height="10" fill="#000"/>
<rect x="910" y="25" width="3" height="7" fill="#000"/>
<rect x="915" y="30" width="1" height="8" fill="#000"/>
<rect x="914" y="31" width="3" height="5" fill="#000"/>
<rect x="919" y="32" width="1" height="14" fill="#000"/>
<rect x="918" y="36" width="3" height="3" fill="#000"/>
<rect x="923" y="35" width="1" height="7" fill="#000"/>
<rect x="922" y="36" width="3" height="3" fill="#000"/>
<rect x="923" y="37" width="1" height="1" fill="#fff"/>
<rect x="927" y="32" width="1" height="12" fill="#000"/>
<rect x="926" y="35" width="3" height="8" fill="#000"/>
<rect x="931" y="40" width="1" height="10" fill="#000"/>
<rect x="930" y="42" width="3" height="5" fill="#000"/>
<rect x="935" y="44" width="1" height="7" fill="#000"/>
<rect x="934" y="45" width="3" height="2" fill="#000"/>
<rect x="939" y="44" width="1" height="7" fill="#000"/>
<rect x="938" y="46" width="3" height="2" fill="#000"/>
<rect x="943" y="42" width="1" height="10" fill="#000"/>
<rect x="942" y="46" width="3" height="2" fill="#000"/>
<rect x="947" y="46" width="1" height="12" fill="#000"/>
<rect x="946" y="47" width="3" height="2" fill="#000"/>
<rect x="951" y="30" width="1" height="22" fill="#000"/>
<rect x="950" y="31" width="3" height="18" fill="#000"/>
<rect x="951" y="32" width="1" height="16" fill="#fff"/>
<rect x="955" y="27" width="1" height="8" fill="#000"/>
<rect x="954" y="31" width="3" height="2" fill="#000"/>
<rect x="959" y="25" width="1" height="6" fill="#000"/>
<rect x="958" y="28" width="3" height="2" fill="#000"/>
<rect x="963" y="25" width="1" height="5" fill="#000"/>
<rect x="962" y="25" width="3" height="5" fill="#000"/>
<rect x="963" y="26" width="1" height="3" fill="#fff"/>
<rect x="967" y="22" width="1" height="8" fill="#000"/>
<rect x="966" y="25" width="3" height="1" fill="#000"/>
<rect x="971" y="22" width="1" height="6" fill="#000"/>
<rect x="970" y="25" width="3" height="1" fill="#000"/>
<rect x="975" y="22" width="1" height="22" fill="#000"/>
<rect x="974" y="24" width="3" height="14" fill="#000"/>
<rect x="979" y="38" width="1" height="13" fill="#000"/>
<rect x="978" y="38" width="3" height="4" fill="#000"/>
<rect x="983" y="38" width="1" height="4" fill="#000"/>
<rect x="982" y="40" width="3" height="2" fill="#000"/>
<rect x="987" y="38" width="1" height="5" fill="#000"/>
<rect x="986" y="40" width="3" height="2" fill="#000"/>
<rect x="991" y="34" width="1" height="12" fill="#000"/>
<rect x="990" y="38" width="3" height="4" fill="#000"/>
<rect x="991" y="39" width="1" height="2" fill="#fff"/>
<rect x="995" y="35" width="1" height="17" fill="#000"/>
<rect x="994" y="38" width="3" height="13" fill="#000"/>
<rect x="999" y="42" width="1" height="16" fill="#000"/>
<rect x="998" y="46" width="3" height="5" fill="#000"/>
<rect x="999" y="47" width="1" height="3" fill="#fff"/>
<rect x="1003" y="42" width="1" height="13" fill="#000"/>
<rect x="1002" y="45" width="3" height="1" fill="#000"/>
<rect x="1007" y="40" width="1" height="5" fill="#000"/>
<rect x="1006" y="42" width="3" height="1" fill="#000"/>
</g>
<g shape-rendering="crispEdges" fill="#00008b">
<rect x="3" y="452" width="1" height="27"/>
<rect x="7" y="453" width="1" height="26"/>
<rect x="11" y="455" width="1" height="24"/>
<rect x="15" y="456" width="1" height="23"/>
<rect x="19" y="460" width="1" height="19"/>
<rect x="23" y="465" width="1" height="14"/>
<rect x="27" y="469" width="1" height="10"/>
<rect x="31" y="473" width="1" height="6"/>
<rect x="35" y="478" width="1" height="1"/>
<rect x="39" y="478" width="1" height="4"/>
<rect x="43" y="478" width="1" height="6"/>
<rect x="47" y="478" width="1" height="6"/>
<rect x="51" y="478" width="1" height="4"/>
<rect x="55" y="478" width="1" height="5"/>
<rect x="59" y="478" width="1" height="4"/>
<rect x="63" y="478" width="1" height="1"/>
<rect x="75" y="476" width="1" height="3"/>
<rect x="79" y="474" width="1" height="5"/>
<rect x="83" y="472" width="1" height="7"/>
<rect x="87" y="472" width="1" height="7"/>
<rect x="91" y="474" width="1" height="5"/>
<rect x="95" y="478" width="1" height="1"/>
<rect x="99" y="478" width="1" height="3"/>
<rect x="103" y="478" width="1" height="7"/>
<rect x="107" y="478" width="1" height="9"/>
<rect x="111" y="478" width="1" height="10"/>
<rect x="115" y="478" width="1" height="9"/>
<rect x="119" y="478" width="1" height="11"/>
<rect x="123" y="478" width="1" height="11"/>
<rect x="127" y="478" width="1" height="9"/>
<rect x="131" y="478" width="1" height="11"/>
<rect x="135" y="478" width="1" height="12"/>
<rect x="139" y="478" width="1" height="13"/>
<rect x="143" y="478" width="1" height="14"/>
<rect x="147" y="478" width="1" height="16"/>
<rect x="151" y="478" width="1" height="19"/>
<rect x="155" y="478" width="1" height="19"/>
<rect x="159" y="478" width="1" height="18"/>
<rect x="163" y="478" width="1" height="16"/>
<rect x="167" y="478" width="1" height="13"/>
<rect x="171" y="478" width="1" height="10"/>
<rect x="175" y="478" width="1" height="7"/>
<rect x="179" y="478" width="1" height="5"/>
<rect x="183" y="478" width="1" height="3"/>
<rect x="187" y="478" width="1" height="4"/>
<rect x="191" y="478" width="1" height="5"/>
<rect x="195" y="478" width="1" height="6"/>
<rect x="199" y="478" width="1" height="8"/>
<rect x="203" y="478" width="1" height="10"/>
<rect x="207" y="478" width="1" height="14"/>
<rect x="211" y="478" width="1" height="23"/>
<rect x="215" y="478" width="1" height="27"/>
<rect x="219" y="478" width="1" height="29"/>
<rect x="223" y="478" width="1" height="30"/>
<rect x="227" y="478" width="1" height="32"/>
<rect x="231" y="478" width="1" height="33"/>
<rect x="235" y="478" width="1" height="36"/>
<rect x="239" y="478" width="1" height="40"/>
<rect x="243" y="478" width="1" height="43"/>
<rect x="247" y="478" width="1" height="46"/>
<rect x="251" y="478" width="1" height="52"/>
<rect x="255" y="478" width="1" height="58"/>
<rect x="259" y="478" width="1" height="64"/>
<rect x="263" y="478" width="1" height="71"/>
<rect x="267" y="478" width="1" height="73"/>
<rect x="271" y="478" width="1" height="73"/>
<rect x="275" y="478" width="1" height="74"/>
<rect x="279" y="478" width="1" height="75"/>
<rect x="283" y="478" width="1" height="76"/>
<rect x="287" y="478" width="1" height="76"/>
<rect x="291" y="478" width="1" height="75"/>
<rect x="295" y="478" width="1" height="75"/>
<rect x="299" y="478" width="1" height="76"/>
<rect x="303" y="478" width="1" height="74"/>
<rect x="307" y="478" width="1" height="72"/>
<rect x="311" y="478" width="1" height="67"/>
<rect x="315" y="478" width="1" height="61"/>
<rect x="319" y="478" width="1" height="55"/>
<rect x="323" y="478" width="1" height="48"/>
<rect x="327" y="478" width="1" height="41"/>
<rect x="331" y="478" width="1" height="35"/>
<rect x="335" y="478" width="1" height="28"/>
<rect x="339" y="478" width="1" height="20"/>
<rect x="343" y="478" width="1" height="13"/>
<rect x="347" y="478" width="1" height="6"/>
<rect x="351" y="478" width="1" height="1"/>
<rect x="355" y="471" width="1" height="8"/>
<rect x="359" y="465" width="1" height="14"/>
<rect x="363" y="461" width="1" height="18"/>
<rect x="367" y="457" width="1" height="22"/>
<rect x="371" y="456" width="1" height="23"/>
<rect x="375" y="452" width="1" height="27"/>
<rect x="379" y="442" width="1" height="37"/>
<rect x="383" y="438" width="1" height="41"/>
<rect x="387" y="434" width="1" height="45"/>
<rect x="391" y="430" width="1" height="49"/>
<rect x="395" y="426" width="1" height="53"/>
<rect x="399" y="422" width="1" height="57"/>
<rect x="403" y="418" width="1" height="61"/>
<rect x="407" y="414" width="1" height="65"/>
<rect x="411" y="414" width="1" height="65"/>
<rect x="415" y="416" width="1" height="63"/>
<rect x="419" y="419" width="1" height="60"/>
<rect x="423" y="419" width="1" height="60"/>
<rect x="427" y="420" width="1" height="59"/>
<rect x="431" y="422" width="1" height="57"/>
<rect x="435" y="419" width="1" height="60"/>
<rect x="439" y="418" width="1" height="61"/>
<rect x="443" y="416" width="1" height="63"/>
<rect x="447" y="399" width="1" height="80"/>
<rect x="451" y="388" width="1" height="91"/>
<rect x="455" y="389" width="1" height="90"/>
<rect x="459" y="391" width="1" height="88"/>
<rect x="463" y="396" width="1" height="83"/>
<rect x="467" y="395" width="1" height="84"/>
<rect x="471" y="397" width="1" height="82"/>
<rect x="475" y="397" width="1" height="82"/>
<rect x="479" y="398" width="1" height="81"/>
<rect x="483" y="399" width="1" height="80"/>
<rect x="487" y="400" width="1" height="79"/>
<rect x="491" y="401" width="1" height="78"/>
<rect x="495" y="402" width="1" height="77"/>
<rect x="499" y="406" width="1" height="73"/>
<rect x="503" y="410" width="1" height="69"/>
<rect x="507" y="415" width="1" height="64"/>
<rect x="511" y="421" width="1" height="58"/>
<rect x="515" y="428" width="1" height="51"/>
<rect x="519" y="433" width="1" height="46"/>
<rect x="523" y="439" width="1" height="40"/>
<rect x="527" y="445" width="1" height="34"/>
<rect x="531" y="451" width="1" height="28"/>
<rect x="535" y="456" width="1" height="23"/>
<rect x="539" y="456" width="1" height="23"/>
<rect x="543" y="456" width="1" height="23"/>
<rect x="547" y="455" width="1" height="24"/>
<rect x="551" y="452" width="1" height="27"/>
<rect x="555" y="448" width="1" height="31"/>
<rect x="559" y="445" width="1" height="34"/>
<rect x="563" y="442" width="1" height="37"/>
<rect x="567" y="437" width="1" height="42"/>
<rect x="571" y="435" width="1" height="44"/>
<rect x="575" y="432" width="1" height="47"/>
<rect x="579" y="433" width="1" height="46"/>
<rect x="583" y="435" width="1" height="44"/>
<rect x="587" y="436" width="1" height="43"/>
<rect x="591" y="439" width="1" height="40"/>
<rect x="595" y="441" width="1" height="38"/>
<rect x="599" y="443" width="1" height="36"/>
<rect x="603" y="446" width="1" height="33"/>
<rect x="607" y="448" width="1" height="31"/>
<rect x="611" y="450" width="1" height="29"/>
<rect x="615" y="450" width="1" height="29"/>
<rect x="619" y="451" width="1" height="28"/>
<rect x="623" y="459" width="1" height="20"/>
<rect x="627" y="464" width="1" height="15"/>
<rect x="631" y="469" width="1" height="10"/>
<rect x="635" y="474" width="1" height="5"/>
<rect x="643" y="478" width="1" height="2"/>
<rect x="647" y="478" width="1" height="5"/>
<rect x="651" y="478" width="1" height="8"/>
<rect x="655" y="478" width="1" height="9"/>
<rect x="659" y="478" width="1" height="9"/>
<rect x="663" y="478" width="1" height="10"/>
<rect x="667" y="478" width="1" height="10"/>
<rect x="671" y="478" width="1" height="11"/>
<rect x="675" y="478" width="1" height="11"/>
<rect x="679" y="478" width="1" height="10"/>
<rect x="683" y="478" width="1" height="9"/>
<rect x="687" y="478" width="1" height="7"/>
<rect x="691" y="478" width="1" height="6"/>
<rect x="695" y="478" width="1" height="4"/>
<rect x="699" y="476" width="1" height="3"/>
<rect x="703" y="471" width="1" height="8"/>
<rect x="707" y="468" width="1" height="11"/>
<rect x="711" y="463" width="1" height="16"/>
<rect x="715" y="458" width="1" height="21"/>
<rect x="719" y="454" width="1" height="25"/>
<rect x="723" y="449" width="1" height="30"/>
<rect x="727" y="449" width="1" height="30"/>
<rect x="731" y="449" width="1" height="30"/>
<rect x="735" y="449" width="1" height="30"/>
<rect x="739" y="451" width="1" height="28"/>
<rect x="743" y="453" width="1" height="26"/>
<rect x="747" y="455" width="1" height="24"/>
<rect x="751" y="456" width="1" height="23"/>
<rect x="755" y="458" width="1" height="21"/>
<rect x="759" y="460" width="1" height="19"/>
<rect x="763" y="462" width="1" height="17"/>
<rect x="767" y="465" width="1" height="14"/>
<rect x="771" y="466" width="1" height="13"/>
<rect x="775" y="467" width="1" height="12"/>
<rect x="779" y="467" width="1" height="12"/>
<rect x="783" y="467" width="1" height="12"/>
<rect x="787" y="467" width="1" height="12"/>
<rect x="791" y="470" width="1" height="9"/>
<rect x="795" y="472" width="1" height="7"/>
<rect x="799" y="475" width="1" height="4"/>
<rect x="803" y="477" width="1" height="2"/>
<rect x="811" y="478" width="1" height="2"/>
<rect x="815" y="478" width="1" height="1"/>
<rect x="823" y="475" width="1" height="4"/>
<rect x="827" y="474" width="1" height="5"/>
<rect x="831" y="474" width="1" height="5"/>
<rect x="835" y="476" width="1" height="3"/>
<rect x="843" y="478" width="1" height="2"/>
<rect x="847" y="478" width="1" height="3"/>
<rect x="851" y="478" width="1" height="4"/>
<rect x="855" y="478" width="1" height="2"/>
<rect x="875" y="477" width="1" height="2"/>
<rect x="879" y="473" width="1" height="6"/>
<rect x="883" y="472" width="1" height="7"/>
<rect x="887" y="470" width="1" height="9"/>
<rect x="891" y="470" width="1" height="9"/>
<rect x="895" y="468" width="1" height="11"/>
<rect x="899" y="467" width="1" height="12"/>
<rect x="903" y="465" width="1" height="14"/>
<rect x="907" y="462" width="1" height="17"/>
<rect x="911" y="462" width="1" height="17"/>
<rect x="915" y="462" width="1" height="17"/>
<rect x="919" y="462" width="1" height="17"/>
<rect x="923" y="462" width="1" height="17"/>
<rect x="927" y="464" width="1" height="15"/>
<rect x="931" y="466" width="1" height="13"/>
<rect x="935" y="468" width="1" height="11"/>
<rect x="939" y="469" width="1" height="10"/>
<rect x="943" y="471" width="1" height="8"/>
<rect x="947" y="471" width="1" height="8"/>
<rect x="951" y="470" width="1" height="9"/>
<rect x="955" y="469" width="1" height="10"/>
<rect x="959" y="468" width="1" height="11"/>
<rect x="963" y="466" width="1" height="13"/>
<rect x="967" y="465" width="1" height="14"/>
<rect x="971" y="464" width="1" height="15"/>
<rect x="975" y="466" width="1" height="13"/>
<rect x="979" y="468" width="1" height="11"/>
<rect x="983" y="469" width="1" height="10"/>
<rect x="987" y="471" width="1" height="8"/>
<rect x="991" y="472" width="1" height="7"/>
<rect x="995" y="474" width="1" height="5"/>
<rect x="999" y="475" width="1" height="4"/>
<rect x="1003" y="477" width="1" height="2"/>
</g>
<g fill="none" stroke="#cdcdcd" stroke-width="1" shape-rendering="crispEdges">
<polyline points="3.5,451.37 7.5,453.03 11.5,454.37 15.5,456.03 19.5,460.03 23.5,464.7 27.5,468.37 31.5,473.03 35.5,479.97 39.5,483.3 43.5,484.97 47.5,484.47 51.5,483.3 55.5,483.8 59.5,482.47 63.5,479.97 67.5,478.8 71.5,477.2 75.5,475.53 79.5,473.87 83.5,472.2 87.5,471.7 91.5,473.87 95.5,479.47 99.5,481.63 103.5,485.8 107.5,487.8 111.5,488.8 115.5,487.8 119.5,489.47 123.5,489.97 127.5,487.8 131.5,489.97 135.5,491.13 139.5,492.13 143.5,492.8 147.5,494.97 151.5,497.8 155.5,497.8 159.5,496.63 163.5,494.97 167.5,491.63 171.5,488.3 175.5,486.13 179.5,483.8 183.5,482.13 187.5,483.3 191.5,484.13 195.5,484.97 199.5,486.63 203.5,489.13 207.5,492.47 211.5,501.63 215.5,505.8 219.5,507.8 223.5,508.8 227.5,510.47 231.5,511.63 235.5,514.47 239.5,519.13 243.5,522.13 247.5,524.97 251.5,530.8 255.5,537.13 259.5,543.3 263.5,549.97 267.5,552.13 271.5,551.63 275.5,552.47 279.5,553.8 283.5,554.47 287.5,554.97 291.5,554.13 295.5,553.8 299.5,554.97 303.5,552.8 307.5,550.8 311.5,545.8 315.5,539.97 319.5,534.13 323.5,526.63 327.5,519.97 331.5,513.8 335.5,506.63 339.5,499.13 343.5,491.63 347.5,484.47 351.5,479.47 355.5,471.03 359.5,464.7 363.5,461.03 367.5,456.87 371.5,456.03 375.5,451.87 379.5,441.87 383.5,437.7 387.5,434.03 391.5,430.2 395.5,425.2 399.5,421.87 403.5,417.7 407.5,414.03 411.5,413.53 415.5,415.2 419.5,418.53 423.5,418.53 427.5,420.2 431.5,421.87 435.5,418.53 439.5,417.37 443.5,415.2 447.5,398.53 451.5,388.03 455.5,388.53 459.5,390.7 463.5,395.7 467.5,394.7 471.5,396.37 475.5,396.87 479.5,397.37 483.5,398.53 487.5,400.2 491.5,400.7 495.5,401.87 499.5,405.2 503.5,409.37 507.5,414.37 511.5,421.03 515.5,427.2 519.5,433.03 523.5,438.87 527.5,444.37 531.5,450.53 535.5,455.53 539.5,455.53 543.5,455.53 547.5,454.37 551.5,451.7 555.5,448.03 559.5,444.37 563.5,441.37 567.5,436.7 571.5,434.7 575.5,432.2 579.5,433.03 583.5,434.7 587.5,436.03 591.5,438.87 595.5,440.53 599.5,442.7 603.5,445.53 607.5,448.03 611.5,449.37 615.5,449.37 619.5,450.53 623.5,458.87 627.5,463.87 631.5,468.87 635.5,473.87 639.5,478.8 643.5,480.8 647.5,484.13 651.5,486.63 655.5,487.8 659.5,487.8 663.5,488.3 667.5,489.13 671.5,489.97 675.5,489.97 679.5,489.13 683.5,487.8 687.5,486.13 691.5,484.97 695.5,482.8 699.5,475.53 703.5,471.03 707.5,467.2 711.5,463.03 715.5,458.03 719.5,453.37 723.5,448.87 727.5,448.37 731.5,448.37 735.5,448.37 739.5,450.53 743.5,453.03 747.5,454.37 751.5,455.53 755.5,457.7 759.5,459.7 763.5,462.2 767.5,464.37 771.5,466.03 775.5,466.7 779.5,466.7 783.5,466.7 787.5,466.7 791.5,469.7 795.5,472.2 799.5,474.37 803.5,476.37 807.5,479.3 811.5,481.13 815.5,479.97 819.5,479.3 823.5,475.03 827.5,473.37 831.5,473.37 835.5,475.53 839.5,479.3 843.5,481.13 847.5,482.13 851.5,482.8 855.5,481.13 859.5,479.3 863.5,479.3 867.5,477.2 871.5,477.2 875.5,476.37 879.5,472.7 883.5,471.37 887.5,470.03 891.5,469.37 895.5,468.03 899.5,466.7 903.5,464.37 907.5,462.2 911.5,461.37 915.5,461.37 919.5,461.7 923.5,462.2 927.5,463.37 931.5,465.53 935.5,467.7 939.5,468.87 943.5,470.53 947.5,471.03 951.5,469.7 955.5,468.37 959.5,468.03 963.5,465.53 967.5,464.37 971.5,463.37 975.5,465.53 979.5,467.2 983.5,468.37 987.5,470.53 991.5,472.2 995.5,473.87 999.5,475.03 1003.5,476.37 1007.5,478.8"/>
</g>
<g fill="none" stroke="#000" stroke-width="1" shape-rendering="crispEdges">
<polyline points="3.5,444.67 7.5,445.83 11.5,447.5 15.5,448.67 19.5,450.83 23.5,453.67 27.5,455.83 31.5,458.67 35.5,462.0 39.5,465.83 43.5,469.17 47.5,472.5 51.5,475.0 55.5,477.0 59.5,479.17 63.5,481.33 67.5,481.67 71.5,481.67 75.5,480.83 79.5,479.67 83.5,478.67 87.5,477.5 91.5,475.83 95.5,475.33 99.5,475.33 103.5,476.33 107.5,477.5 111.5,479.17 115.5,480.83 119.5,482.5 123.5,484.67 127.5,486.67 131.5,488.0 135.5,488.83 139.5,489.5 143.5,489.67 147.5,490.83 151.5,492.0 155.5,493.0 159.5,493.67 163.5,493.67 167.5,493.33 171.5,493.33 175.5,493.0 179.5,491.33 183.5,489.67 187.5,488.33 191.5,486.67 195.5,485.83 199.5,485.5 203.5,485.5 207.5,485.83 211.5,487.5 215.5,490.0 219.5,493.0 223.5,496.67 227.5,499.67 231.5,503.33 235.5,506.33 239.5,509.17 243.5,511.67 247.5,515.0 251.5,517.5 255.5,520.83 259.5,525.0 263.5,529.17 267.5,533.33 271.5,536.67 275.5,540.0 279.5,543.67 283.5,547.0 287.5,549.67 291.5,551.67 295.5,552.5 299.5,552.5 303.5,552.5 307.5,552.5 311.5,552.0 315.5,550.33 319.5,548.33 323.5,545.83 327.5,541.67 331.5,537.0 335.5,531.67 339.5,525.0 343.5,517.5 347.5,510.83 351.5,504.17 355.5,497.5 359.5,491.67 363.5,485.0 367.5,478.67 371.5,475.0 375.5,470.0 379.5,464.83 383.5,459.67 387.5,454.67 391.5,449.5 395.5,444.5 399.5,439.33 403.5,434.17 407.5,429.17 411.5,424.33 415.5,421.67 419.5,419.33 423.5,418.0 427.5,417.5 431.5,417.5 435.5,417.67 439.5,417.5 443.5,416.83 447.5,414.67 451.5,411.67 455.5,408.83 459.5,405.5 463.5,402.17 467.5,399.33 471.5,397.17 475.5,395.0 479.5,393.5 483.5,393.5 487.5,395.0 491.5,396.0 495.5,397.17 499.5,398.33 503.5,400.17 507.5,402.67 511.5,404.67 515.5,408.0 519.5,412.0 523.5,415.83 527.5,420.0 531.5,425.33 535.5,431.33 539.5,437.0 543.5,442.0 547.5,445.83 551.5,448.33 555.5,450.0 559.5,451.33 563.5,450.5 567.5,449.17 571.5,447.5 575.5,445.0 579.5,442.5 583.5,440.0 587.5,437.5 591.5,436.33 595.5,436.33 599.5,436.33 603.5,437.5 607.5,439.17 611.5,440.5 615.5,442.5 619.5,444.67 623.5,447.5 627.5,450.0 631.5,454.17 635.5,457.5 639.5,461.67 643.5,465.83 647.5,470.0 651.5,473.67 655.5,477.0 659.5,480.0 663.5,482.5 667.5,484.67 671.5,486.33 675.5,487.17 679.5,488.0 683.5,488.67 687.5,488.67 691.5,488.0 695.5,487.5 699.5,485.33 703.5,483.33 707.5,481.33 711.5,478.33 715.5,474.17 719.5,470.0 723.5,465.0 727.5,461.33 731.5,458.0 735.5,455.33 739.5,453.33 743.5,452.0 747.5,451.33 751.5,451.33 755.5,451.33 759.5,452.5 763.5,454.67 767.5,456.67 771.5,458.33 775.5,459.67 779.5,461.33 783.5,462.5 787.5,463.67 791.5,465.33 795.5,467.0 799.5,468.67 803.5,469.67 807.5,471.33 811.5,473.0 815.5,474.67 819.5,476.17 823.5,476.67 827.5,476.67 831.5,476.67 835.5,476.67 839.5,477.5 843.5,477.5 847.5,477.5 851.5,477.5 855.5,478.33 859.5,478.67 863.5,478.67 867.5,479.17 871.5,479.17 875.5,479.17 879.5,478.33 883.5,477.5 887.5,475.83 891.5,474.17 895.5,473.0 899.5,471.33 903.5,469.67 907.5,468.33 911.5,466.67 915.5,465.0 919.5,464.17 923.5,463.67 927.5,463.67 931.5,463.67 935.5,463.67 939.5,463.83 943.5,464.67 947.5,465.33 951.5,466.33 955.5,467.5 959.5,468.33 963.5,468.67 967.5,468.33 971.5,468.0 975.5,467.5 979.5,466.67 983.5,466.33 987.5,466.33 991.5,466.33 995.5,467.0 999.5,468.33 1003.5,470.0 1007.5,472.0"/>
</g>
<g stroke="#ff0000" stroke-width="1" fill="none" shape-rendering="crispEdges">
<rect x="3" y="137" width="1013" height="1" fill="#ff0000" stroke="none"/>
<line x1="443.3" y1="39.55" x2="1016" y2="20.55"/>
<line x1="527.5" y1="136.55" x2="1016" y2="57.95"/>
<line x1="479.5" y1="396.15" x2="1016" y2="476.85"/>
</g>
<g shape-rendering="crispEdges" fill="#000">
<rect x="2" y="2" width="1015" height="1"/>
<rect x="2" y="2" width="1" height="374"/>
<rect x="1016" y="2" width="1" height="374"/>
<rect x="2" y="375" width="1015" height="1"/>
<rect x="2" y="377" width="1015" height="1"/>
<rect x="2" y="377" width="1" height="187"/>
<rect x="1016" y="377" width="1" height="187"/>
<rect x="2" y="563" width="1015" height="1"/>
<rect x="1017" y="9" width="2" height="1"/>
<rect x="1017" y="42" width="2" height="1"/>
<rect x="1017" y="75" width="2" height="1"/>
<rect x="1017" y="108" width="2" height="1"/>
<rect x="1017" y="141" width="2" height="1"/>
<rect x="1017" y="174" width="2" height="1"/>
<rect x="1017" y="207" width="2" height="1"/>
<rect x="1017" y="240" width="2" height="1"/>
<rect x="1017" y="273" width="2" height="1"/>
<rect x="1017" y="306" width="2" height="1"/>
<rect x="1017" y="339" width="2" height="1"/>
<rect x="1017" y="372" width="2" height="1"/>
<rect x="1017" y="379" width="1" height="1"/>
<rect x="1017" y="478" width="1" height="1"/>
<rect x="1017" y="562" width="1" height="1"/>
<rect x="3" y="564" width="1" height="3"/>
<rect x="67" y="564" width="1" height="3"/>
<rect x="131" y="564" width="1" height="3"/>
<rect x="195" y="564" width="1" height="3"/>
<rect x="259" y="564" width="1" height="3"/>
<rect x="323" y="564" width="1" height="3"/>
<rect x="387" y="564" width="1" height="3"/>
<rect x="451" y="564" width="1" height="3"/>
<rect x="515" y="564" width="1" height="3"/>
<rect x="579" y="564" width="1" height="3"/>
<rect x="643" y="564" width="1" height="3"/>
<rect x="707" y="564" width="1" height="3"/>
<rect x="771" y="564" width="1" height="3"/>
<rect x="835" y="564" width="1" height="3"/>
<rect x="899" y="564" width="1" height="3"/>
<rect x="963" y="564" width="1" height="3"/>
</g>
<g font-family="Liberation Sans, Arial, sans-serif" font-size="9.7px" text-rendering="geometricPrecision">
<text x="1022" y="13" textLength="25" lengthAdjust="spacingAndGlyphs" fill="#000" stroke="#000" stroke-width="0.22">30457</text>
<text x="1022" y="79" textLength="25" lengthAdjust="spacingAndGlyphs" fill="#000" stroke="#000" stroke-width="0.22">29647</text>
<text x="1022" y="112" textLength="25" lengthAdjust="spacingAndGlyphs" fill="#000" stroke="#000" stroke-width="0.22">29237</text>
<text x="1022" y="145" textLength="25" lengthAdjust="spacingAndGlyphs" fill="#000" stroke="#000" stroke-width="0.22">28837</text>
<text x="1022" y="178" textLength="25" lengthAdjust="spacingAndGlyphs" fill="#000" stroke="#000" stroke-width="0.22">28427</text>
<text x="1022" y="211" textLength="25" lengthAdjust="spacingAndGlyphs" fill="#000" stroke="#000" stroke-width="0.22">28017</text>
<text x="1022" y="244" textLength="25" lengthAdjust="spacingAndGlyphs" fill="#000" stroke="#000" stroke-width="0.22">27617</text>
<text x="1022" y="277" textLength="25" lengthAdjust="spacingAndGlyphs" fill="#000" stroke="#000" stroke-width="0.22">27207</text>
<text x="1022" y="310" textLength="25" lengthAdjust="spacingAndGlyphs" fill="#000" stroke="#000" stroke-width="0.22">26797</text>
<text x="1022" y="343" textLength="25" lengthAdjust="spacingAndGlyphs" fill="#000" stroke="#000" stroke-width="0.22">26397</text>
<text x="1022" y="376" textLength="25" lengthAdjust="spacingAndGlyphs" fill="#000" stroke="#000" stroke-width="0.22">25987</text>
<text x="1020" y="387.8" textLength="23" lengthAdjust="spacingAndGlyphs" fill="#000" stroke="#000" stroke-width="0.22">528.8</text>
<text x="1020" y="482" textLength="19" lengthAdjust="spacingAndGlyphs" fill="#000" stroke="#000" stroke-width="0.22">0.00</text>
<text x="1020" y="559.7" textLength="25.5" lengthAdjust="spacingAndGlyphs" fill="#000" stroke="#000" stroke-width="0.22">-451.6</text>
<text x="2.3" y="575.8" textLength="50.8" lengthAdjust="spacingAndGlyphs" fill="#000" stroke="#000" stroke-width="0.22">14 Oct 2020</text>
<text x="66.3" y="575.8" textLength="54.099999999999994" lengthAdjust="spacingAndGlyphs" fill="#000" stroke="#000" stroke-width="0.22">16 Oct 16:00</text>
<text x="130.3" y="575.8" textLength="54.099999999999994" lengthAdjust="spacingAndGlyphs" fill="#000" stroke="#000" stroke-width="0.22">21 Oct 08:00</text>
<text x="194.3" y="575.8" textLength="54.099999999999994" lengthAdjust="spacingAndGlyphs" fill="#000" stroke="#000" stroke-width="0.22">26 Oct 00:00</text>
<text x="258.3" y="575.8" textLength="54.099999999999994" lengthAdjust="spacingAndGlyphs" fill="#000" stroke="#000" stroke-width="0.22">28 Oct 16:00</text>
<text x="322.3" y="575.8" textLength="52.099999999999994" lengthAdjust="spacingAndGlyphs" fill="#000" stroke="#000" stroke-width="0.22">2 Nov 08:00</text>
<text x="386.3" y="575.8" textLength="52.099999999999994" lengthAdjust="spacingAndGlyphs" fill="#000" stroke="#000" stroke-width="0.22">5 Nov 00:00</text>
<text x="450.3" y="575.8" textLength="52.099999999999994" lengthAdjust="spacingAndGlyphs" fill="#000" stroke="#000" stroke-width="0.22">9 Nov 16:00</text>
<text x="514.3" y="575.8" textLength="56.9" lengthAdjust="spacingAndGlyphs" fill="#000" stroke="#000" stroke-width="0.22">12 Nov 08:00</text>
<text x="578.3" y="575.8" textLength="56.9" lengthAdjust="spacingAndGlyphs" fill="#000" stroke="#000" stroke-width="0.22">17 Nov 00:00</text>
<text x="642.3" y="575.8" textLength="56.9" lengthAdjust="spacingAndGlyphs" fill="#000" stroke="#000" stroke-width="0.22">19 Nov 16:00</text>
<text x="706.3" y="575.8" textLength="56.9" lengthAdjust="spacingAndGlyphs" fill="#000" stroke="#000" stroke-width="0.22">24 Nov 08:00</text>
<text x="770.3" y="575.8" textLength="56.9" lengthAdjust="spacingAndGlyphs" fill="#000" stroke="#000" stroke-width="0.22">27 Nov 04:00</text>
<text x="834.3" y="575.8" textLength="49.5" lengthAdjust="spacingAndGlyphs" fill="#000" stroke="#000" stroke-width="0.22">1 Dec 20:00</text>
<text x="898.3" y="575.8" textLength="49.5" lengthAdjust="spacingAndGlyphs" fill="#000" stroke="#000" stroke-width="0.22">4 Dec 12:00</text>
<text x="962.3" y="575.8" textLength="49.5" lengthAdjust="spacingAndGlyphs" fill="#000" stroke="#000" stroke-width="0.22">9 Dec 04:00</text>
<text x="7.2" y="14" textLength="50.3" lengthAdjust="spacingAndGlyphs" fill="#000" stroke="#000" stroke-width="0.22">YMCash,H4</text>
<text x="63.0" y="14" textLength="24.2" lengthAdjust="spacingAndGlyphs" fill="#000" stroke="#000" stroke-width="0.22">30052</text>
<text x="91.1" y="14" textLength="24.2" lengthAdjust="spacingAndGlyphs" fill="#000" stroke="#000" stroke-width="0.22">30090</text>
<text x="119.2" y="14" textLength="24.2" lengthAdjust="spacingAndGlyphs" fill="#000" stroke="#000" stroke-width="0.22">30025</text>
<text x="147.3" y="14" textLength="24.2" lengthAdjust="spacingAndGlyphs" fill="#000" stroke="#000" stroke-width="0.22">30056</text>
<text x="7.7" y="389.8" textLength="66" lengthAdjust="spacingAndGlyphs" fill="#000" stroke="#000" stroke-width="0.22">MACD(12,26,9)</text>
<text x="75.8" y="389.8" textLength="12.8" lengthAdjust="spacingAndGlyphs" fill="#000" stroke="#000" stroke-width="0.22">3.6</text>
<text x="92" y="389.8" textLength="17" lengthAdjust="spacingAndGlyphs" fill="#000" stroke="#000" stroke-width="0.22">33.1</text>
<text x="116.3" y="389.8" textLength="35.3" lengthAdjust="spacingAndGlyphs" fill="#000" stroke="#000" stroke-width="0.22">-&gt;MA(1)</text>
<text x="155.8" y="389.8" textLength="12.8" lengthAdjust="spacingAndGlyphs" fill="#000" stroke="#000" stroke-width="0.22">3.6</text>
</g>
<g shape-rendering="crispEdges">
<rect x="1018" y="37" width="33" height="11" fill="#000"/>
<rect x="1018" y="131" width="33" height="11" fill="#ff0000"/>
</g>
<g font-family="Liberation Sans, Arial, sans-serif" font-size="9.7px" text-rendering="geometricPrecision">
<text x="1022" y="46" textLength="25" lengthAdjust="spacingAndGlyphs" fill="#fff" stroke="#fff" stroke-width="0.1">30056</text>
<text x="1022" y="140" textLength="25" lengthAdjust="spacingAndGlyphs" fill="#fff" stroke="#fff" stroke-width="0.1">28886</text>
</g>
</svg>
</body></html>
